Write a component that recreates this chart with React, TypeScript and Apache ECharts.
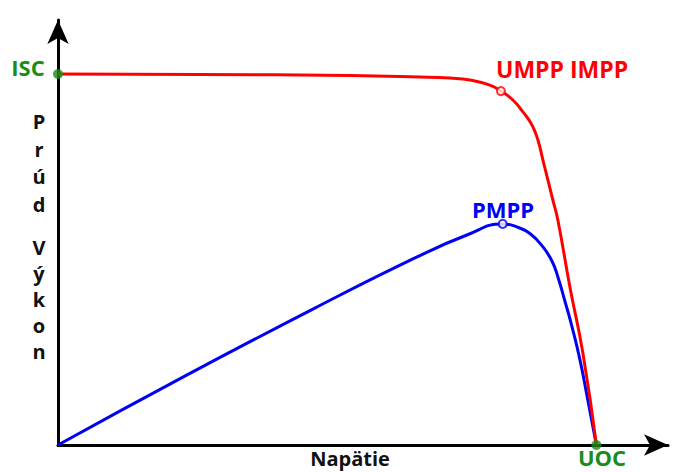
import React, { useEffect, useRef } from "react";
import * as echarts from "echarts";

// I–V curve (red): voltage vs current
const ivVoltage = [0, 26.4, 54.2, 67.2, 72.8, 76.5, 80.22, 82.27, 84.49, 86.35, 88.02, 89.14, 90.07, 91.0, 91.92, 92.85, 95.08, 97.49, 100];
const ivCurrent = [10.0, 9.99, 9.96, 9.92, 9.89, 9.84, 9.7, 9.54, 9.3, 8.98, 8.63, 8.22, 7.68, 7.14, 6.6, 6.06, 4.26, 2.48, 0];

// P–V curve (blue): voltage vs power (scaled)
const pvVoltage = [0, 23.2, 48.1, 66.7, 75.95, 82.6, 85.2, 87.65, 90.07, 91.74, 92.85, 94.15, 95.45, 96.94, 98.42, 100];
const pvPower = [0, 1.83, 3.72, 5.07, 5.66, 5.96, 5.88, 5.7, 5.34, 4.96, 4.53, 3.88, 3.2, 2.3, 1.2, 0];

// Special points
const mppIV = [82.27, 9.54];
const mppPV = [82.6, 5.96];
const iscPoint = [0, 10];
const uocPoint = [100, 0];

const GREEN = "#1a8c1a";
const RED = "#ff0000";
const BLUE = "#0000f5";
const FONT = "Open Sans";

export default function App() {
  const ref = useRef<HTMLDivElement>(null);
  useEffect(() => {
    if (!ref.current) return;
    const chart = echarts.init(ref.current, null, { renderer: "svg" });
    const ivData = ivVoltage.map((v, i) => [v, ivCurrent[i]]);
    const pvData = pvVoltage.map((v, i) => [v, pvPower[i]]);
    const axisCommon = {
      axisTick: { show: false },
      axisLabel: { show: false },
      splitLine: { show: false },
      axisLine: {
        show: true,
        symbol: ["none", "arrow"],
        symbolSize: [16, 24],
        lineStyle: { color: "#000", width: 3 },
      },
    };
    chart.setOption({
      animation: false,
      backgroundColor: "#fff",
      grid: { left: 58, top: 20, width: 610, height: 425 },
      xAxis: { type: "value", min: 0, max: 113.3, ...axisCommon },
      yAxis: { type: "value", min: 0, max: 11.456, ...axisCommon },
      series: [
        {
          type: "line",
          data: pvData,
          smooth: 0.5,
          showSymbol: false,
          lineStyle: { color: BLUE, width: 3 },
          z: 2,
        },
        {
          type: "line",
          data: ivData,
          smooth: 0.5,
          showSymbol: false,
          lineStyle: { color: RED, width: 3 },
          z: 3,
        },
        {
          type: "scatter",
          data: [mppIV],
          symbolSize: 8,
          itemStyle: { color: "#fff", borderColor: RED, borderWidth: 2 },
          z: 5,
        },
        {
          type: "scatter",
          data: [mppPV],
          symbolSize: 8,
          itemStyle: { color: "#fff", borderColor: BLUE, borderWidth: 2 },
          z: 5,
        },
        {
          type: "scatter",
          data: [iscPoint, uocPoint],
          symbolSize: 10,
          itemStyle: { color: GREEN },
          z: 6,
        },
      ],
      graphic: [
        {
          type: "text",
          x: 28,
          y: 67,
          style: { text: "ISC", fill: GREEN, font: `bold 22px "${FONT}"`, align: "center", verticalAlign: "middle" },
        },
        {
          type: "text",
          x: 496,
          y: 69,
          style: { text: "UMPP IMPP", fill: RED, font: `bold 23px "${FONT}"`, align: "left", verticalAlign: "middle" },
        },
        {
          type: "text",
          x: 472,
          y: 209,
          style: { text: "PMPP", fill: BLUE, font: `bold 22px "${FONT}"`, align: "left", verticalAlign: "middle" },
        },
        {
          type: "text",
          x: 602,
          y: 457,
          style: { text: "UOC", fill: GREEN, font: `bold 22px "${FONT}"`, align: "center", verticalAlign: "middle" },
        },
        {
          type: "text",
          x: 350,
          y: 458,
          style: { text: "Napätie", fill: "#111", font: `bold 20px "${FONT}"`, align: "center", verticalAlign: "middle" },
        },
        {
          type: "text",
          x: 39,
          y: 108,
          style: { text: "P\nr\nú\nd", fill: "#111", font: `bold 20px "${FONT}"`, align: "center", verticalAlign: "top", lineHeight: 27.5 },
        },
        {
          type: "text",
          x: 39,
          y: 234,
          style: { text: "V\ný\nk\no\nn", fill: "#111", font: `bold 20px "${FONT}"`, align: "center", verticalAlign: "top", lineHeight: 26 },
        },
      ],
    });
    return () => chart.dispose();
  }, []);
  return (
    <div
      ref={ref}
      style={{ position: "absolute", left: 0, top: 0, width: 682, height: 472 }}
    />
  );
}
